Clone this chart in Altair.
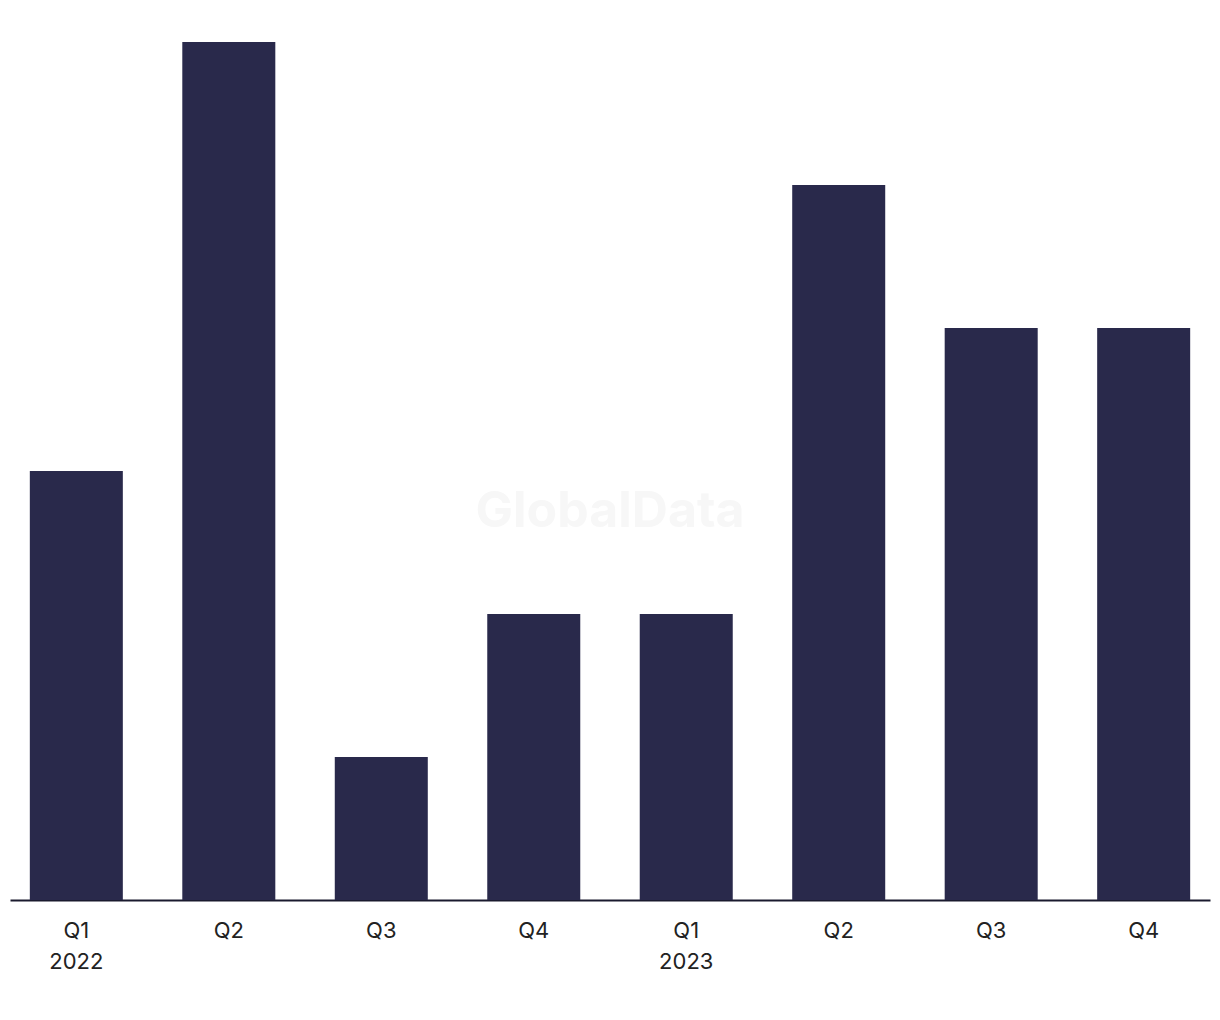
import altair as alt
import pandas as pd

quarters = ["Q1 2022", "Q2 2022", "Q3 2022", "Q4 2022",
            "Q1 2023", "Q2 2023", "Q3 2023", "Q4 2023"]
values = [3, 6, 1, 2, 2, 5, 4, 4]

df = pd.DataFrame({"quarter": quarters, "value": values})

W, H = 1200, 858

base = alt.Chart(df)

bars = base.mark_bar(color="#29294b").encode(
    x=alt.X("quarter:N", sort=quarters, title=None,
            scale=alt.Scale(paddingInner=0.39, paddingOuter=0.13),
            axis=alt.Axis(
                labelAngle=0,
                labelExpr="indexof(datum.value, 'Q1') == 0 ? split(datum.value, ' ') : slice(datum.value, 0, 2)",
                labelFont="Inter", labelFontSize=22, labelColor="#222222",
                labelLineHeight=31, labelPadding=20,
                ticks=False, domainColor="#1a1a2e", domainWidth=2,
                grid=False)),
    y=alt.Y("value:Q", title=None, scale=alt.Scale(domain=[0, 6], nice=False),
            axis=None),
)

watermark = alt.Chart(pd.DataFrame({"t": ["GlobalData"]})).mark_text(
    font="Inter", fontSize=50, fontWeight="bold", color="#f7f7f7"
).encode(text="t:N", x=alt.value(W / 2), y=alt.value(470))

chart = alt.layer(watermark, bars).properties(
    width=W, height=H,
    background="white",
    autosize=alt.AutoSizeParams(type="none"),
    padding={"left": 2, "top": 34, "right": 2, "bottom": 100},
).configure_view(stroke=None, strokeWidth=0)

chart.save("out.html", embed_options={"renderer": "svg", "actions": False})
